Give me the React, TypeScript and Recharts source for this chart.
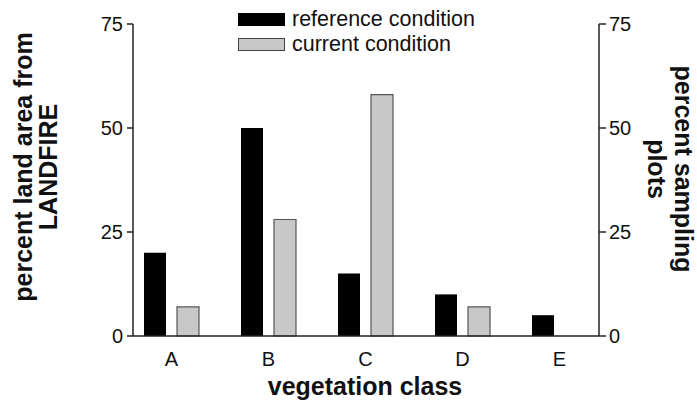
import React from 'react';
import { BarChart, Bar, XAxis, YAxis, Legend, Label } from 'recharts';

// vegetation classes and the two conditions (percent)
const classes = ['A', 'B', 'C', 'D', 'E'];
const referenceCondition = [20, 50, 15, 10, 5];
const currentCondition = [7, 28, 58, 7, 0];
const yTicks = [0, 25, 50, 75];

const data = classes.map((c, i) => ({
  name: c,
  reference: referenceCondition[i],
  current: currentCondition[i],
}));

const FONT = '"Liberation Sans", Arial, Helvetica, sans-serif';
const AXIS = '#222';

const renderLegend = () => (
  <div style={{ fontFamily: FONT, fontSize: 21.5, color: '#111', lineHeight: '25px' }}>
    <div style={{ display: 'flex', alignItems: 'center' }}>
      <span style={{ display: 'inline-block', width: 47, height: 13, background: '#000', marginRight: 7 }} />
      reference condition
    </div>
    <div style={{ display: 'flex', alignItems: 'center' }}>
      <span
        style={{
          display: 'inline-block',
          width: 47,
          height: 13,
          background: '#c8c8c8',
          border: '1.5px solid #444',
          boxSizing: 'border-box',
          marginRight: 7,
        }}
      />
      current condition
    </div>
  </div>
);

const titleStyle = { fontFamily: FONT, fontSize: 25, fontWeight: 700, fill: '#111' };

const LeftTitle = () => (
  <g>
    <text x={32} y={167} transform="rotate(-90, 32, 167)" textAnchor="middle" style={titleStyle}>
      percent land area from
    </text>
    <text x={57} y={167} transform="rotate(-90, 57, 167)" textAnchor="middle" style={titleStyle}>
      LANDFIRE
    </text>
  </g>
);

const RightTitle = () => (
  <g>
    <text x={675} y={169} transform="rotate(90, 675, 169)" textAnchor="middle" style={titleStyle}>
      percent sampling
    </text>
    <text x={648} y={169} transform="rotate(90, 648, 169)" textAnchor="middle" style={titleStyle}>
      plots
    </text>
  </g>
);

const BottomTitle = () => (
  <text x={365} y={395} textAnchor="middle" style={titleStyle}>
    vegetation class
  </text>
);

const App: React.FC = () => {
  const tickStyle = { fontFamily: FONT, fontSize: 20, fill: '#111' };
  return (
    <div style={{ position: 'absolute', left: 0, top: 0, background: '#fff' }}>
      <BarChart
        width={697}
        height={402}
        data={data}
        margin={{ top: 24, right: 0, bottom: 0, left: 0 }}
        barSize={22}
        barGap={11}
      >
        <XAxis
          dataKey="name"
          height={66}
          padding={{ left: -10, right: -9 }}
          tickLine={false}
          tickSize={0}
          tickMargin={16}
          stroke={AXIS}
          strokeWidth={1.5}
          tick={tickStyle}
        >
          <Label content={() => <BottomTitle />} />
        </XAxis>
        <YAxis
          yAxisId="left"
          width={133}
          domain={[0, 75]}
          ticks={yTicks}
          tickSize={6}
          tickMargin={4}
          stroke={AXIS}
          strokeWidth={1.5}
          tick={tickStyle}
        >
          <Label content={() => <LeftTitle />} />
        </YAxis>
        <YAxis
          yAxisId="right"
          orientation="right"
          width={98}
          domain={[0, 75]}
          ticks={yTicks}
          tickSize={7}
          tickMargin={3}
          stroke={AXIS}
          strokeWidth={1.5}
          tick={tickStyle}
        >
          <Label content={() => <RightTitle />} />
        </YAxis>
        <Legend
          layout="horizontal"
          verticalAlign="middle"
          align="center"
          content={renderLegend}
          wrapperStyle={{ left: 238, top: 7, width: 'auto' }}
        />
        <Bar yAxisId="left" dataKey="reference" fill="#000" isAnimationActive={false} />
        <Bar
          yAxisId="right"
          dataKey="current"
          fill="#c8c8c8"
          stroke="#555"
          strokeWidth={1.2}
          isAnimationActive={false}
        />
      </BarChart>
    </div>
  );
};

export default App;
